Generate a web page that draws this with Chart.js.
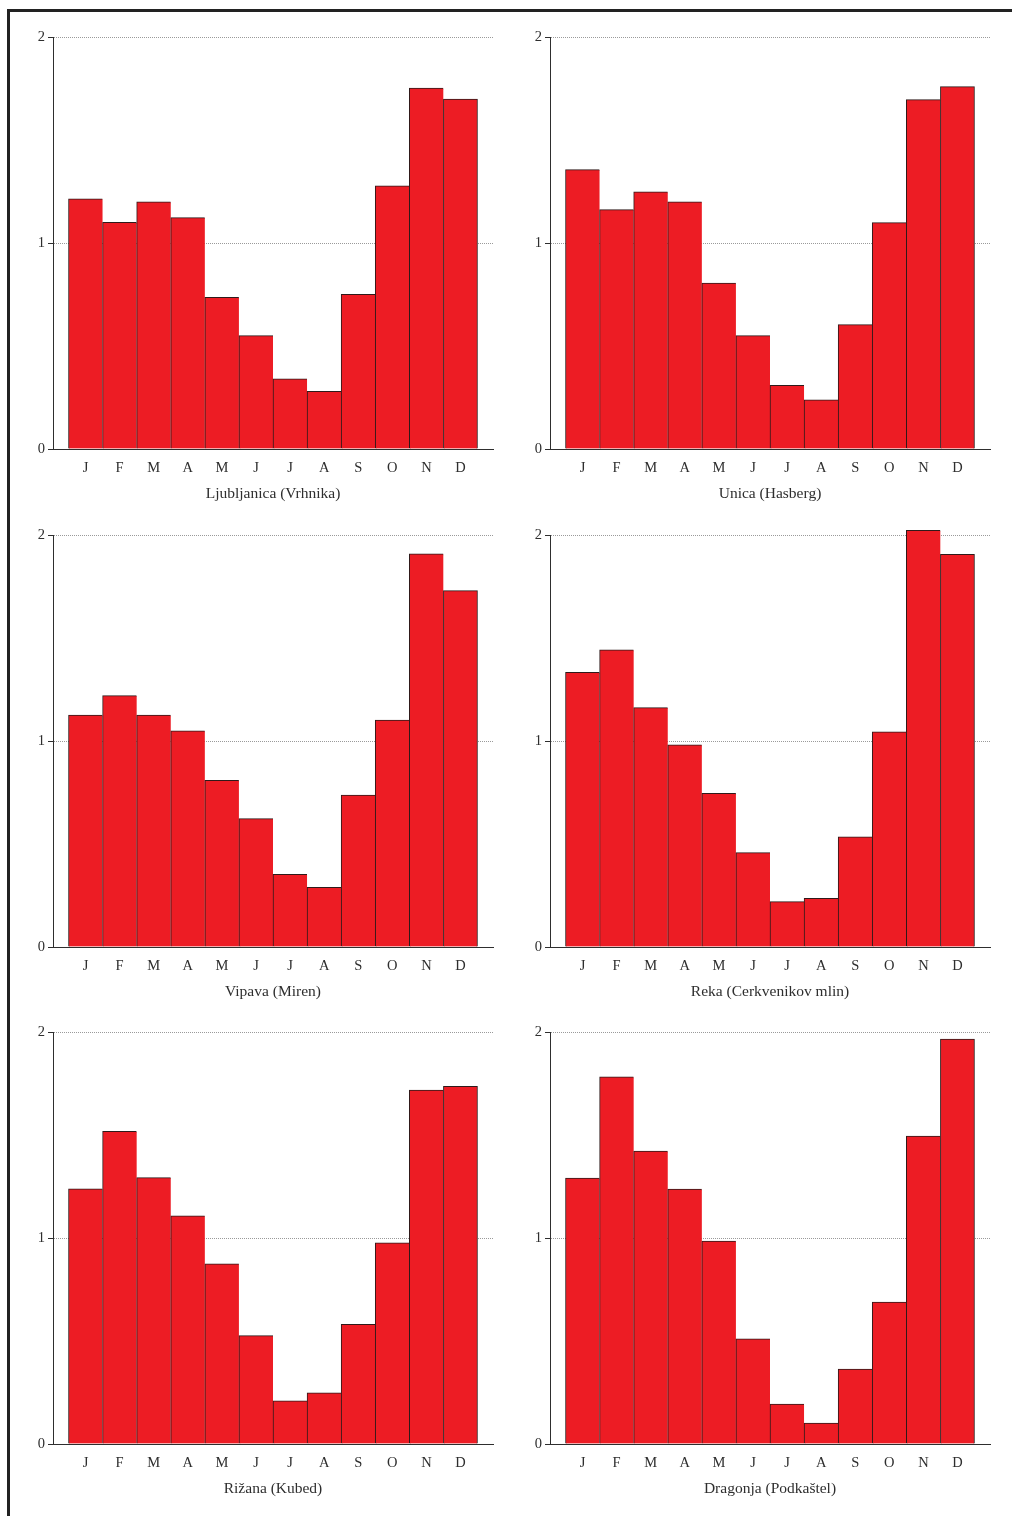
<!DOCTYPE html>
<html>
<head>
<meta charset="utf-8">
<script src="https://cdn.jsdelivr.net/npm/chart.js@4/dist/chart.umd.min.js"></script>
<style>
  html, body { margin: 0; padding: 0; background: #fff; }
  body { width: 1012px; height: 1516px; position: relative; overflow: hidden; }
  .frame { position: absolute; left: 7px; top: 9px; width: 1100px; height: 1600px;
           border-top: 3px solid #222; border-left: 3px solid #222; }
  canvas { position: absolute; }
</style>
</head>
<body>
<div class="frame"></div>
<canvas id="c0" width="477" height="487" style="left:20px;top:22px"></canvas>
<canvas id="c1" width="477" height="487" style="left:517px;top:22px"></canvas>
<canvas id="c2" width="477" height="487" style="left:20px;top:520px"></canvas>
<canvas id="c3" width="477" height="487" style="left:517px;top:520px"></canvas>
<canvas id="c4" width="477" height="487" style="left:20px;top:1017px"></canvas>
<canvas id="c5" width="477" height="487" style="left:517px;top:1017px"></canvas>
<script>
// Month initials along the x axis
const months = ['J', 'F', 'M', 'A', 'M', 'J', 'J', 'A', 'S', 'O', 'N', 'D'];
// Y-axis tick values
const yTicks = [0, 1, 2];

// Monthly values per gauging station
const ljubljanica = [1.215, 1.100, 1.200, 1.123, 0.736, 0.550, 0.341, 0.280, 0.751, 1.278, 1.752, 1.699];
const unica       = [1.356, 1.162, 1.248, 1.200, 0.806, 0.550, 0.309, 0.239, 0.604, 1.099, 1.696, 1.759];
const vipava      = [1.126, 1.220, 1.126, 1.049, 0.809, 0.623, 0.353, 0.290, 0.738, 1.102, 1.908, 1.730];
const reka        = [1.333, 1.442, 1.162, 0.981, 0.746, 0.458, 0.220, 0.236, 0.535, 1.045, 2.023, 1.906];
const rizana      = [1.239, 1.518, 1.293, 1.108, 0.875, 0.526, 0.209, 0.249, 0.581, 0.976, 1.718, 1.736];
const dragonja    = [1.291, 1.782, 1.422, 1.238, 0.985, 0.510, 0.194, 0.102, 0.364, 0.689, 1.495, 1.966];

// Station names shown under each panel
const stations = ['Ljubljanica (Vrhnika)', 'Unica (Hasberg)', 'Vipava (Miren)',
                  'Reka (Cerkvenikov mlin)', 'Rižana (Kubed)', 'Dragonja (Podkaštel)'];
const series = [ljubljanica, unica, vipava, reka, rizana, dragonja];

Chart.defaults.font.family = '"Liberation Serif", "DejaVu Serif", serif';
Chart.defaults.font.size = 14;
Chart.defaults.color = '#333';

const ink = '#2e2e2e';
const barFill = '#ED1C24';
const barEdge = '#2f1a1a';

function drawPanel(id, title, values) {
  const points = values.map((v, i) => ({ x: i, y: v }));
  new Chart(document.getElementById(id), {
    type: 'bar',
    data: {
      datasets: [{
        data: points,
        backgroundColor: barFill,
        borderColor: barEdge,
        borderWidth: (c) => ({ left: 1, top: 1, bottom: 0, right: c.dataIndex === values.length - 1 ? 1 : 0 }),
        borderSkipped: false,
        categoryPercentage: 1,
        barPercentage: 1,
        clip: false
      }]
    },
    options: {
      responsive: false,
      animation: false,
      devicePixelRatio: 1,
      layout: { padding: { top: 15, right: 4, left: 0, bottom: 0 } },
      plugins: { legend: { display: false }, tooltip: { enabled: false } },
      scales: {
        x: {
          type: 'linear',
          offset: false,
          min: -0.955,
          max: 11.955,
          afterFit: (s) => { s.height = 60; },
          afterBuildTicks: (s) => { s.ticks = months.map((m, i) => ({ value: i })); },
          grid: { display: true, offset: false, drawOnChartArea: false, drawTicks: false },
          border: { display: true, color: ink, width: 1, z: 1 },
          ticks: {
            autoSkip: false, maxRotation: 0, padding: 10, color: ink,
            font: { size: 14.5 },
            callback: (v) => months[v]
          },
          title: { display: true, text: title, color: ink, font: { size: 15.5 }, padding: { top: 0, bottom: 6 } }
        },
        y: {
          min: 0,
          max: 2,
          afterFit: (s) => { s.width = 33; },
          afterBuildTicks: (s) => { s.ticks = yTicks.map((v) => ({ value: v })); },
          border: { display: true, color: ink, width: 1, dash: [1, 1] },
          grid: {
            color: (c) => (c.tick && c.tick.value === 0 ? 'rgba(0,0,0,0)' : '#9a9a9a'),
            lineWidth: 1,
            drawTicks: true,
            tickLength: 5,
            tickColor: ink,
            tickWidth: 1,
            tickBorderDash: [10, 0]
          },
          ticks: { padding: 3, color: ink, font: { size: 14.5 } }
        }
      }
    }
  });
}

series.forEach((vals, i) => drawPanel('c' + i, stations[i], vals));
</script>
</body>
</html>
